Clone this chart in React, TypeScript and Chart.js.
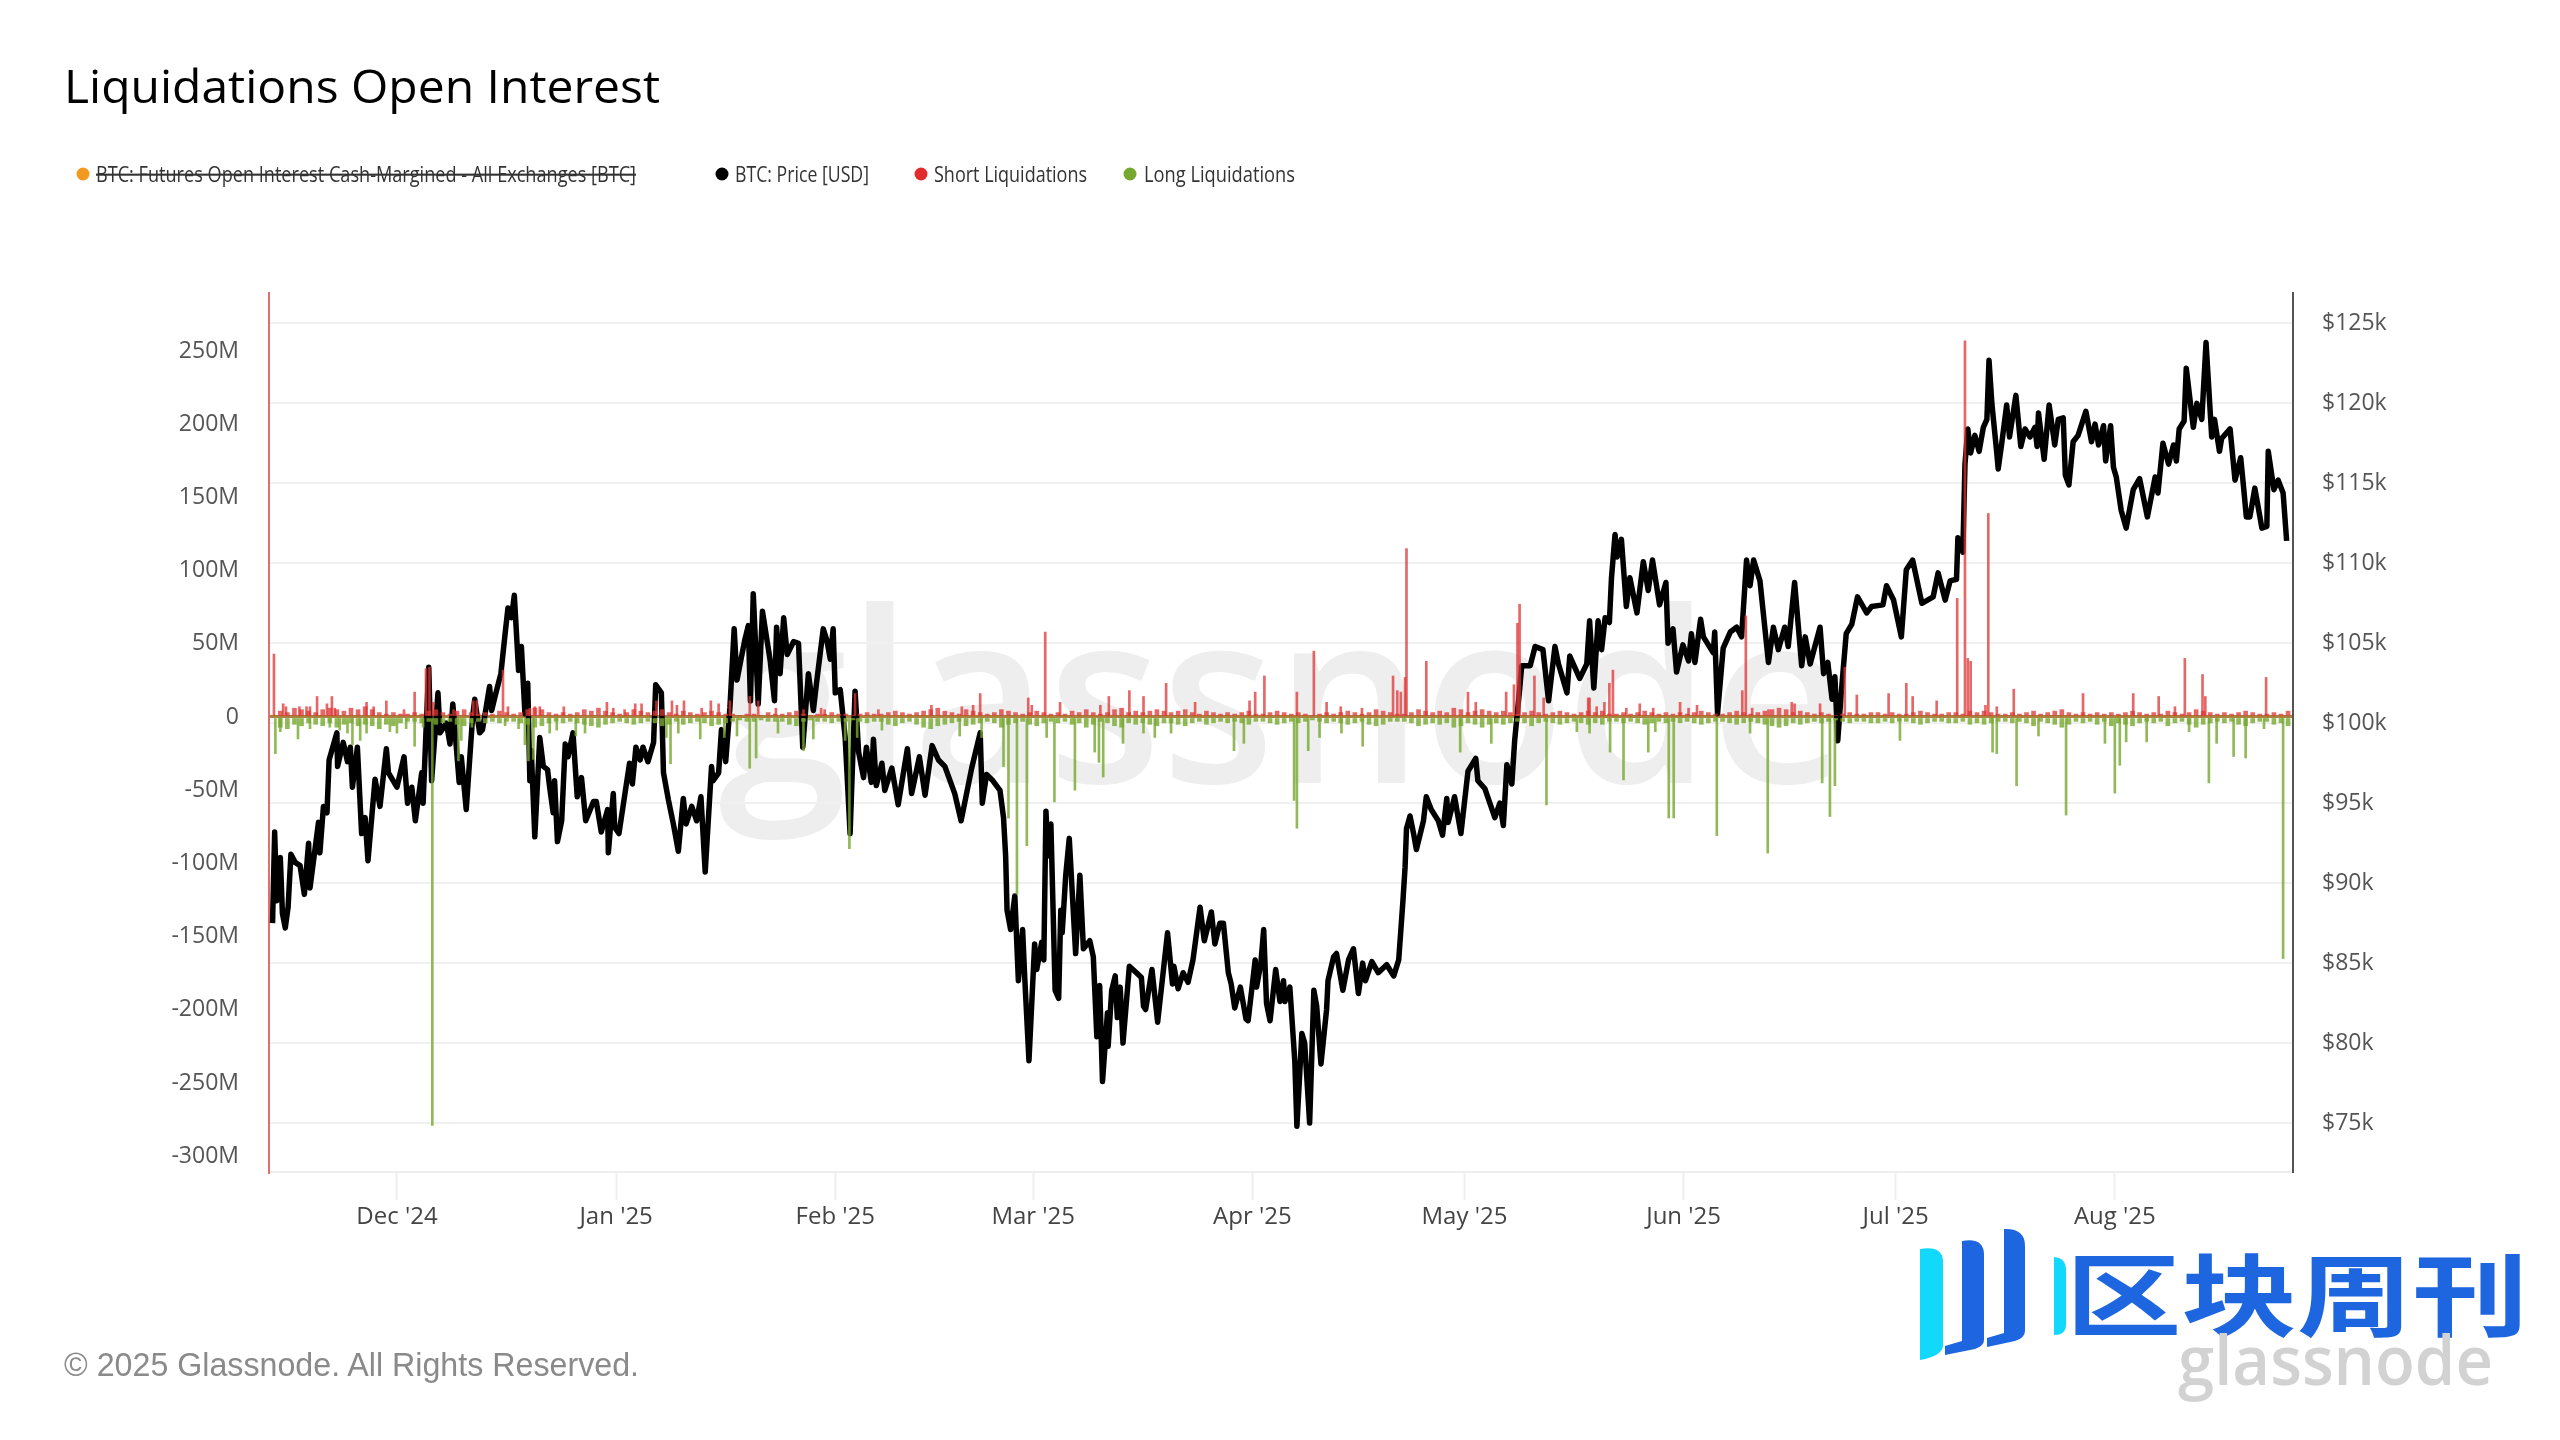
import { useEffect, useRef } from "react"
import { Chart, registerables } from "chart.js"

Chart.register(...registerables)

const TITLE = "Liquidations Open Interest"
const COPYRIGHT = "© 2025 Glassnode. All Rights Reserved."

// x values are days counted from 1 Dec 2024
const monthDays = [0, 31, 62, 90, 121, 151, 182, 212, 243]
const monthLabels = ["Dec '24", "Jan '25", "Feb '25", "Mar '25", "Apr '25", "May '25", "Jun '25", "Jul '25", "Aug '25"]
const liqTicks = [250, 200, 150, 100, 50, 0, -50, -100, -150, -200, -250, -300]
const priceTicks = [125, 120, 115, 110, 105, 100, 95, 90, 85, 80, 75]

// BTC price, $k
const priceDays = [
  -17.6, -17.3, -17.0, -16.5, -16.2, -15.8, -15.4, -15.0, -14.4, -13.7, -13.1, -12.5, -12.3, -11.1, -10.9, -10.4, -9.9, -9.6, -8.5, -8.4,
  -7.6, -7.0, -6.6, -6.3, -5.6, -5.0, -4.5, -4.1, -3.1, -2.4, -1.5, -1.2, 0.0, 1.0, 1.5, 2.1, 2.6, 3.5, 3.7, 4.1,
  4.5, 4.9, 5.8, 6.1, 7.0, 7.5, 7.9, 8.4, 8.8, 9.1, 9.8, 10.7, 11.0, 11.7, 12.1, 13.1, 13.4, 14.0, 14.7, 15.3,
  15.7, 16.2, 16.6, 17.2, 17.6, 18.1, 18.5, 18.8, 19.0, 19.5, 20.2, 20.7, 21.3, 21.6, 22.1, 22.3, 22.7, 23.3, 23.8, 24.2,
  24.9, 25.5, 26.1, 26.7, 27.8, 28.2, 28.9, 29.8, 29.9, 30.6, 30.8, 31.4, 32.9, 33.3, 33.8, 34.4, 34.8, 35.5, 36.3, 36.6,
  37.4, 37.7, 38.4, 39.1, 39.8, 40.5, 40.9, 41.7, 42.4, 43.0, 43.6, 44.5, 44.7, 45.5, 45.9, 46.5, 47.1, 47.7, 48.1, 49.2,
  49.7, 50.0, 50.4, 51.1, 51.7, 52.8, 53.4, 53.7, 54.2, 54.7, 55.2, 56.1, 56.8, 57.4, 58.2, 58.9, 59.4, 60.3, 60.8, 61.3,
  61.7, 62.0, 62.7, 63.4, 64.1, 64.8, 65.3, 66.0, 66.4, 67.1, 67.4, 67.8, 68.6, 69.0, 70.0, 70.9, 72.2, 72.8, 73.9, 74.7,
  75.7, 76.6, 77.5, 78.9, 79.8, 81.3, 82.5, 82.8, 83.4, 84.3, 85.3, 85.8, 86.1, 86.3, 86.8, 87.4, 87.9, 88.5, 88.8, 89.4,
  90.2, 90.5, 91.2, 91.5, 91.8, 92.1, 92.5, 93.1, 93.6, 93.9, 94.1, 94.6, 95.1, 96.0, 96.6, 97.1, 98.0, 98.5, 99.0, 99.4,
  99.8, 100.5, 100.6, 101.1, 101.6, 101.9, 102.3, 102.7, 103.6, 104.6, 105.3, 105.6, 105.9, 106.8, 107.6, 109.0, 109.7, 109.9, 110.5, 111.2,
  111.9, 112.6, 113.6, 114.2, 115.2, 115.7, 116.4, 116.9, 117.6, 118.0, 118.5, 119.3, 120.1, 120.4, 121.4, 121.6, 122.2, 122.6, 123.0, 123.5,
  124.3, 124.9, 125.4, 125.6, 126.3, 127.0, 127.3, 128.0, 128.4, 129.1, 129.7, 130.1, 130.7, 131.5, 131.7, 132.5, 132.9, 133.8, 134.6, 135.3,
  136.0, 136.6, 137.0, 137.9, 138.8, 140.0, 141.0, 141.7, 142.3, 142.6, 142.8, 143.3, 143.8, 144.2, 145.2, 145.6, 146.3, 147.3, 147.9, 148.5,
  148.7, 149.6, 150.5, 151.5, 152.6, 152.9, 153.9, 155.3, 156.0, 156.5, 157.0, 157.7, 158.1, 158.8, 159.1, 160.3, 161.0, 162.1, 162.9, 163.8,
  164.3, 165.5, 165.9, 167.3, 168.3, 168.7, 169.3, 169.9, 170.4, 170.9, 171.5, 171.8, 172.3, 172.6, 173.2, 173.9, 174.4, 175.4, 176.3, 177.0,
  177.6, 178.6, 179.5, 179.8, 180.5, 181.0, 181.9, 182.7, 183.1, 183.6, 184.4, 184.8, 186.2, 186.4, 186.8, 187.6, 188.6, 189.5, 190.2, 190.9,
  191.4, 191.9, 192.8, 194.0, 194.7, 195.4, 196.3, 196.8, 197.7, 198.7, 199.2, 199.9, 201.3, 201.8, 202.4, 203.0, 203.4, 203.8, 204.3, 205.0,
  205.8, 206.6, 207.9, 208.6, 210.2, 210.7, 211.7, 212.8, 213.5, 214.4, 215.7, 217.3, 218.0, 219.0, 219.7, 220.6, 220.8, 221.5, 221.8, 222.2,
  222.6, 223.2, 223.8, 224.4, 224.9, 225.2, 225.6, 226.3, 226.5, 227.0, 227.7, 228.1, 229.0, 229.7, 230.3, 231.0, 231.7, 232.0, 232.2, 233.0,
  233.7, 234.5, 235.0, 235.7, 236.0, 236.5, 237.1, 237.8, 238.9, 239.7, 240.2, 240.7, 241.4, 241.7, 242.4, 242.8, 243.2, 243.9, 244.6, 245.6,
  246.5, 247.6, 248.7, 249.1, 249.8, 250.6, 251.3, 251.7, 252.1, 252.8, 253.1, 254.1, 254.6, 255.3, 255.9, 256.7, 257.1, 257.8, 258.1, 259.3,
  260.0, 260.8, 261.2, 261.6, 262.1, 262.8, 263.8, 264.5, 264.7, 265.5, 266.1, 266.8, 267.3,
]
const priceK = [
  87.5, 93.2, 88.9, 91.6, 88.1, 87.2, 88.5, 91.8, 91.3, 91.1, 89.3, 92.5, 89.7, 93.8, 91.9, 94.8, 94.4, 97.7, 99.4, 97.3,
  98.8, 97.6, 98.5, 96.0, 98.5, 93.1, 94.1, 91.4, 96.5, 94.8, 98.4, 96.9, 96.0, 97.9, 95.0, 96.0, 93.9, 96.9, 95.0, 99.4,
  103.5, 96.4, 101.9, 99.4, 100.0, 98.7, 101.2, 98.5, 96.3, 97.9, 94.6, 100.4, 101.5, 99.4, 99.6, 102.3, 100.8, 101.9, 103.1, 105.6,
  107.2, 106.6, 108.0, 103.3, 104.8, 100.6, 102.5, 96.4, 98.3, 92.9, 99.1, 97.3, 97.1, 96.0, 94.4, 96.4, 92.6, 93.9, 98.7, 97.9,
  99.4, 95.4, 96.6, 93.9, 95.1, 95.1, 93.2, 94.6, 91.9, 95.6, 93.5, 93.1, 97.5, 96.2, 98.5, 97.7, 98.5, 97.6, 98.8, 102.4,
  101.9, 96.9, 95.2, 93.7, 92.0, 95.3, 93.7, 94.8, 93.9, 95.4, 90.7, 97.3, 96.4, 96.9, 99.6, 97.6, 101.0, 105.9, 102.7, 105.2,
  106.1, 101.4, 108.1, 101.2, 107.0, 103.9, 101.4, 106.0, 103.1, 106.6, 104.3, 105.1, 105.0, 98.5, 103.1, 100.8, 102.7, 105.9, 105.2, 104.0,
  105.9, 101.9, 102.1, 99.1, 93.1, 102.0, 98.2, 96.6, 98.5, 96.3, 99.0, 96.1, 97.5, 95.8, 97.2, 94.9, 98.4, 95.6, 97.9, 95.5,
  98.6, 97.7, 97.3, 95.6, 93.9, 97.2, 99.4, 95.0, 96.8, 96.4, 95.8, 94.1, 91.7, 88.3, 87.1, 89.2, 83.9, 87.1, 84.1, 78.9,
  86.2, 84.6, 86.3, 85.2, 94.5, 91.7, 93.7, 83.3, 82.8, 88.3, 86.9, 90.5, 92.8, 85.6, 90.5, 85.9, 86.4, 85.4, 80.4, 83.6,
  77.6, 81.9, 79.8, 83.3, 84.2, 81.6, 83.5, 80.0, 84.8, 84.4, 84.1, 82.3, 82.1, 84.6, 81.3, 86.9, 83.7, 84.8, 83.4, 84.4,
  83.8, 85.2, 88.5, 86.4, 88.2, 86.2, 87.5, 87.5, 84.4, 83.7, 82.2, 83.5, 81.5, 81.4, 85.2, 83.5, 85.0, 87.1, 82.5, 81.4,
  84.6, 82.6, 83.9, 82.6, 83.5, 78.9, 74.8, 80.6, 80.0, 75.0, 83.3, 82.3, 78.7, 82.1, 83.9, 85.4, 85.6, 83.3, 85.2, 85.9,
  83.1, 85.0, 83.9, 85.1, 84.4, 84.9, 84.2, 85.2, 88.9, 91.0, 93.4, 94.2, 93.1, 92.1, 93.9, 95.4, 94.6, 93.9, 93.0, 95.3,
  93.8, 95.4, 93.1, 97.0, 97.8, 96.4, 95.9, 94.1, 95.0, 93.6, 97.4, 96.2, 98.9, 102.1, 103.6, 103.6, 104.8, 104.6, 101.4, 104.8,
  103.7, 101.9, 104.2, 102.8, 103.7, 106.4, 102.2, 106.4, 104.6, 106.6, 106.3, 109.1, 111.8, 110.4, 111.5, 107.3, 109.1, 106.9, 110.1, 108.3,
  110.2, 107.4, 108.8, 105.0, 105.9, 103.2, 104.9, 103.9, 105.6, 103.8, 106.5, 105.4, 104.4, 105.7, 100.6, 104.7, 105.7, 106.0, 105.4, 110.2,
  108.6, 110.2, 108.9, 103.8, 106.0, 104.6, 106.0, 104.8, 108.8, 103.6, 105.4, 103.7, 106.0, 103.1, 103.8, 101.5, 102.9, 98.9, 101.9, 105.6,
  106.2, 107.9, 106.9, 107.3, 107.4, 108.6, 107.7, 105.4, 109.6, 110.2, 107.5, 107.9, 109.4, 107.7, 108.9, 109.0, 111.6, 110.7, 116.2, 118.4,
  116.9, 118.0, 117.0, 118.5, 119.0, 122.7, 120.0, 116.9, 115.9, 117.5, 119.9, 117.9, 120.5, 117.3, 118.4, 117.9, 118.5, 117.3, 119.4, 116.5,
  119.9, 117.4, 119.0, 119.1, 115.5, 114.9, 117.6, 118.0, 119.5, 117.6, 118.7, 117.4, 118.6, 116.4, 118.6, 116.0, 115.4, 113.3, 112.2, 114.6,
  115.3, 112.9, 115.4, 114.4, 117.5, 116.2, 117.4, 116.4, 118.4, 118.9, 122.2, 118.5, 120.0, 119.0, 123.8, 117.9, 119.0, 117.0, 117.8, 118.4,
  115.2, 116.6, 114.8, 112.9, 112.9, 114.7, 112.2, 112.3, 117.0, 114.6, 115.2, 114.4, 111.4,
]

// the bigger short liquidation spikes, $M
const shortDays = [
  -17.4, -16.1, -15.7, -13.8, -12.8, -12.3, -11.3, -9.9, -9.2, -8.8, -4.3, -3.3, -1.5, 1.0, 2.5, 4.1, 4.6, 5.1, 8.0, 10.8,
  11.3, 15.0, 15.7, 18.8, 19.5, 20.2, 23.6, 29.7, 30.6, 32.2, 33.7, 34.6, 36.7, 38.9, 39.6, 40.6, 43.1, 44.4, 45.5, 47.1,
  49.9, 51.1, 53.6, 57.5, 60.0, 60.5, 64.8, 68.1, 75.6, 79.9, 81.5, 82.5, 89.3, 89.8, 91.7, 93.8, 99.5, 100.7, 103.6, 105.6,
  108.8, 112.9, 120.6, 121.4, 122.7, 127.3, 129.7, 131.5, 133.5, 136.5, 140.9, 141.5, 142.0, 142.6, 142.8, 145.6, 151.5, 152.6, 156.9, 158.0,
  158.5, 158.8, 160.9, 162.2, 168.5, 168.7, 169.7, 170.8, 171.5, 172.0, 173.9, 175.8, 177.7, 181.5, 182.7, 183.9, 190.3, 190.8, 191.7, 194.0,
  197.3, 197.7, 201.3, 204.8, 206.5, 211.0, 213.5, 214.4, 217.8, 220.7, 221.8, 222.2, 222.6, 225.1, 224.7, 226.3, 228.7, 238.5, 245.6, 249.2,
  251.5, 252.9, 255.4, 255.8, 264.4,
]
const shortM = [
  43, 9, 7, 7, 7, 7, 14, 9, 14, 6, 10, 7, 11, 5, 17, 33, 34, 10, 5, 11,
  11, 32, 7, 6, 7, 7, 7, 10, 6, 5, 9, 9, 11, 11, 8, 11, 6, 11, 9, 11,
  14, 11, 6, 5, 6, 5, 16, 5, 8, 7, 8, 16, 13, 8, 58, 10, 8, 14, 18, 14,
  23, 10, 11, 17, 28, 17, 45, 10, 7, 6, 28, 18, 17, 27, 115, 38, 17, 10, 17, 22,
  64, 77, 28, 13, 13, 13, 7, 10, 23, 32, 6, 9, 6, 10, 6, 8, 18, 69, 6, 5,
  10, 9, 9, 34, 15, 16, 23, 14, 11, 81, 257, 40, 38, 139, 8, 7, 19, 16, 16, 14,
  7, 40, 29, 14, 27,
]

// the bigger long liquidation spikes, $M (plotted downwards)
const longDays = [
  -17.2, -16.5, -14.0, -12.3, -9.5, -8.1, -7.0, -6.3, -5.2, -4.3, -1.0, 0.0, 1.3, 2.5, 3.7, 5.0, 8.7, 9.1, 10.6, 15.3,
  17.2, 18.1, 18.6, 19.3, 21.6, 22.6, 25.3, 26.6, 38.1, 38.7, 39.8, 42.9, 46.3, 48.1, 49.9, 50.8, 53.9, 57.5, 58.9, 63.4,
  64.0, 65.1, 68.6, 79.6, 82.7, 85.8, 86.5, 87.7, 89.1, 91.9, 93.0, 95.9, 98.7, 99.3, 99.9, 102.7, 105.6, 107.2, 109.5, 118.4,
  119.8, 126.9, 127.3, 128.9, 130.5, 133.6, 136.6, 150.4, 154.8, 162.6, 166.9, 168.7, 171.6, 173.5, 177.0, 178.0, 179.9, 180.6, 186.7, 191.4,
  193.9, 201.6, 202.7, 203.4, 212.6, 225.7, 226.3, 229.1, 232.2, 236.1, 241.6, 243.0, 243.7, 244.6, 247.5, 253.5, 256.3, 257.4, 259.8, 261.5,
  264.1, 266.8,
]
const longM = [
  25, 10, 15, 8, 7, 9, 11, 19, 16, 11, 10, 11, 8, 20, 7, 279, 30, 16, 7, 6,
  8, 19, 30, 29, 11, 9, 13, 11, 14, 32, 11, 15, 14, 13, 35, 28, 11, 23, 15, 16,
  90, 14, 9, 13, 14, 34, 69, 121, 88, 14, 58, 50, 24, 31, 41, 18, 11, 14, 11, 23,
  18, 57, 76, 23, 14, 11, 20, 24, 18, 60, 10, 11, 24, 43, 24, 10, 69, 69, 81, 11,
  93, 45, 68, 47, 16, 24, 25, 47, 13, 67, 18, 52, 33, 17, 17, 10, 45, 18, 27, 28,
  8, 165,
]

// small day-by-day liquidations along the zero line, from -17 onwards, $M
const shortSmallM = [
  4, 3, 6, 5, 4, 3, 5, 6, 5, 4, 6, 5, 7, 5, 3, 2, 3, 2, 2, 3, 2, 4, 5, 3, 2, 4, 5, 3, 2, 3,
  2, 4, 3, 2, 3, 5, 6, 5, 3, 2, 3, 2, 3, 5, 4, 6, 4, 3, 2, 3, 5, 4, 3, 4, 5, 3, 2, 4, 3, 2,
  3, 4, 3, 2, 2, 1, 2, 2, 1, 3, 2, 2, 3, 4, 2, 1, 2, 2, 3, 2, 2, 1, 2, 3, 2, 2, 3, 4, 3, 2,
  3, 4, 5, 6, 4, 3, 2, 5, 4, 3, 2, 3, 5, 4, 3, 2, 3, 4, 3, 2, 3, 2, 4, 3, 5, 3, 2, 3, 5, 6,
  3, 4, 3, 4, 5, 4, 3, 4, 5, 3, 2, 4, 3, 2, 3, 2, 3, 4, 2, 2, 3, 4, 3, 2, 3, 2, 1, 2, 3, 2,
  3, 4, 3, 2, 3, 5, 4, 3, 2, 2, 3, 5, 4, 3, 4, 3, 6, 5, 3, 4, 5, 4, 3, 4, 3, 2, 3, 4, 3, 2,
  3, 4, 3, 2, 3, 4, 3, 4, 2, 2, 3, 2, 3, 4, 3, 2, 3, 2, 3, 2, 3, 4, 3, 2, 2, 3, 4, 3, 2, 3,
  4, 5, 6, 5, 3, 4, 3, 2, 3, 2, 1, 2, 3, 2, 2, 3, 3, 2, 3, 2, 2, 3, 4, 3, 2, 2, 3, 3, 2, 4,
  3, 4, 3, 2, 2, 3, 2, 3, 4, 2, 3, 4, 5, 3, 2, 3, 2, 3, 2, 3, 2, 3, 4, 3, 2, 3, 2, 4, 3, 2,
  3, 5, 4, 3, 2, 3, 2, 3, 4, 3, 2, 2, 3, 2, 4, 3, 2, 3,
]
const longSmallM = [
  7, 8, 5, 6, 4, 5, 6, 4, 7, 5, 4, 6, 5, 6, 8, 5, 6, 4, 3, 3, 4, 3, 5, 4, 3, 5, 6, 4, 3, 4,
  3, 4, 3, 3, 4, 5, 7, 6, 4, 3, 4, 3, 4, 5, 6, 7, 5, 4, 3, 4, 5, 4, 3, 4, 6, 5, 3, 5, 4, 3,
  4, 6, 5, 4, 3, 2, 3, 3, 2, 3, 3, 3, 5, 6, 3, 2, 3, 3, 4, 3, 3, 2, 3, 4, 3, 3, 5, 6, 4, 3,
  5, 7, 8, 6, 5, 4, 3, 6, 5, 4, 3, 4, 7, 5, 4, 3, 5, 6, 4, 3, 4, 3, 5, 4, 7, 5, 3, 4, 6, 7,
  4, 5, 4, 5, 6, 4, 4, 5, 6, 4, 3, 5, 4, 3, 4, 3, 4, 5, 3, 3, 4, 5, 4, 3, 4, 3, 2, 3, 4, 3,
  4, 5, 4, 3, 5, 6, 5, 3, 3, 3, 4, 6, 5, 4, 5, 4, 7, 6, 4, 5, 7, 5, 4, 5, 4, 3, 4, 6, 4, 3,
  4, 5, 4, 3, 4, 5, 4, 5, 3, 3, 4, 3, 4, 5, 4, 3, 4, 3, 4, 3, 4, 5, 4, 3, 3, 4, 5, 4, 3, 4,
  5, 6, 7, 6, 4, 5, 4, 3, 4, 3, 2, 3, 4, 3, 3, 4, 4, 3, 4, 3, 3, 4, 5, 4, 3, 3, 4, 4, 3, 5,
  4, 5, 4, 3, 3, 4, 3, 4, 6, 3, 4, 5, 7, 5, 3, 4, 3, 5, 3, 6, 4, 5, 6, 4, 3, 4, 3, 6, 4, 3,
  5, 7, 5, 4, 3, 4, 3, 5, 6, 4, 3, 3, 5, 4, 6, 5, 7, 4,
]
const smallFirstDay = -17

const legendItems = [
  { label: "BTC: Futures Open Interest Cash-Margined - All Exchanges [BTC]", color: "#f29a1f", dot: 83, text: 96, width: 540, struck: true },
  { label: "BTC: Price [USD]", color: "#000000", dot: 722, text: 735, width: 134, struck: false },
  { label: "Short Liquidations", color: "#e22b2b", dot: 921, text: 934, width: 153, struck: false },
  { label: "Long Liquidations", color: "#75a82e", dot: 1130, text: 1144, width: 151, struck: false },
]

const FONT = '"Open Sans", sans-serif'
const SHORT_COLOR = "rgba(222, 52, 52, 0.75)"
const LONG_COLOR = "rgba(118, 168, 46, 0.8)"

export default function App() {
  const chartRef = useRef<HTMLCanvasElement>(null)

  useEffect(() => {
    if (!chartRef.current) return

    const chart = new Chart(chartRef.current, {
      type: "bar",
      data: {
        datasets: [
          {
            type: "line",
            label: "BTC: Price [USD]",
            data: priceDays.map((d, i) => ({ x: d, y: priceK[i] })),
            yAxisID: "yPrice",
            borderColor: "#000000",
            borderWidth: 5.5,
            borderJoinStyle: "round",
            pointRadius: 0,
            tension: 0,
            order: 5,
          },
          {
            label: "Short Liquidations",
            data: shortDays.map((d, i) => ({ x: d, y: shortM[i] })),
            yAxisID: "yLiq",
            backgroundColor: SHORT_COLOR,
            barThickness: 2,
            grouped: false,
            order: 4,
          },
          {
            label: "Short Liquidations, small",
            data: shortSmallM.map((v, i) => ({ x: smallFirstDay + i + 0.5, y: v })),
            yAxisID: "yLiq",
            backgroundColor: SHORT_COLOR,
            barThickness: 4,
            grouped: false,
            order: 3,
          },
          {
            label: "Long Liquidations",
            data: longDays.map((d, i) => ({ x: d, y: -longM[i] })),
            yAxisID: "yLiq",
            backgroundColor: LONG_COLOR,
            barThickness: 2,
            grouped: false,
            order: 2,
          },
          {
            label: "Long Liquidations, small",
            data: longSmallM.map((v, i) => ({ x: smallFirstDay + i + 0.5, y: -v })),
            yAxisID: "yLiq",
            backgroundColor: LONG_COLOR,
            barThickness: 4,
            grouped: false,
            order: 1,
          },
        ],
      },
      options: {
        responsive: false,
        devicePixelRatio: 1,
        animation: false,
        events: [],
        layout: { padding: { top: 293, left: 0, right: 0, bottom: 0 } },
        plugins: { legend: { display: false }, tooltip: { enabled: false } },
        scales: {
          x: {
            type: "linear",
            offset: false,
            min: -18.1,
            max: 268.2,
            afterBuildTicks: (scale) => {
              scale.ticks = monthDays.map((value) => ({ value }))
            },
            afterFit: (scale) => {
              scale.height = 268
            },
            border: { color: "#eeeeee", width: 2 },
            grid: { drawOnChartArea: false, drawTicks: true, tickLength: 28, tickColor: "#eeeeee", tickWidth: 2, offset: false },
            ticks: {
              autoSkip: false,
              maxRotation: 0,
              padding: 3,
              color: "#444444",
              font: { family: FONT, size: 24 },
              callback: (_v, i) => monthLabels[i],
            },
          },
          yLiq: {
            position: "left",
            min: -310.8,
            max: 289.6,
            afterBuildTicks: (scale) => {
              scale.ticks = liqTicks.map((value) => ({ value }))
            },
            afterFit: (scale) => {
              scale.width = 269
            },
            border: { color: "#e07070", width: 2 },
            grid: {
              drawTicks: false,
              lineWidth: 3,
              color: (ctx) => (ctx.tick && ctx.tick.value === 0 ? "#a8853c" : "rgba(0,0,0,0)"),
            },
            ticks: {
              padding: 30,
              color: "#555555",
              font: { family: FONT, size: 23 },
              callback: (v) => (v === 0 ? "0" : `${v}M`),
            },
          },
          yPrice: {
            position: "right",
            min: 71.94,
            max: 126.9,
            afterBuildTicks: (scale) => {
              scale.ticks = priceTicks.map((value) => ({ value }))
            },
            afterFit: (scale) => {
              scale.width = 267
            },
            border: { color: "#555555", width: 2 },
            grid: { drawTicks: false, color: "#f0f0f0", lineWidth: 2 },
            ticks: {
              padding: 29,
              color: "#555555",
              font: { family: FONT, size: 23 },
              callback: (v) => `$${v}k`,
            },
          },
        },
      },
    })

    return () => {
      chart.destroy()
    }
  }, [])

  return (
    <div style={{ position: "absolute", left: 0, top: 0, width: 2560, height: 1440, background: "#ffffff", overflow: "hidden" }}>
      <svg width={2560} height={1440} style={{ position: "absolute", left: 0, top: 0 }}>
        <text x={718} y={783} fontFamily={FONT} fontWeight={600} fontSize={240} fill="#eeeeee" textLength={1127} lengthAdjust="spacingAndGlyphs">
          glassnode
        </text>
      </svg>
      <canvas ref={chartRef} width={2560} height={1440} style={{ position: "absolute", left: 0, top: 0 }} />
      <svg width={2560} height={1440} style={{ position: "absolute", left: 0, top: 0 }}>
        <text x={64} y={103} fontFamily={FONT} fontSize={46} fill="#000000" textLength={596} lengthAdjust="spacingAndGlyphs">
          {TITLE}
        </text>
        {legendItems.map((item) => (
          <g key={item.label}>
            <circle cx={item.dot} cy={174} r={6.5} fill={item.color} />
            <text
              x={item.text}
              y={182}
              fontFamily={FONT}
              fontSize={21}
              fill="#333333"
              textLength={item.width}
              lengthAdjust="spacingAndGlyphs"
              textDecoration={item.struck ? "line-through" : undefined}
            >
              {item.label}
            </text>
          </g>
        ))}
        <text x={64} y={1376} fontFamily='"Liberation Sans", sans-serif' fontSize={33} fill="#8a8a8a" textLength={575} lengthAdjust="spacingAndGlyphs">
          {COPYRIGHT}
        </text>
        <path d="M1920 1249 Q1943 1245 1943 1262 L1943 1345 Q1943 1356 1920 1360 Z" fill="#12d8fb" />
        <path d="M1945 1355 L1945 1346 L1962 1341 L1962 1241 Q1984 1237 1984 1255 L1984 1340 Q1984 1346 1975 1349 Z" fill="#1e66e0" />
        <path d="M1987 1347 L1987 1338 L2004 1333 L2004 1229 Q2025 1228 2025 1246 L2025 1331 Q2025 1338 2015 1341 Z" fill="#1e66e0" />
        <path d="M2054 1257 Q2066 1258 2066 1270 L2066 1325 Q2066 1335 2054 1335 Z" fill="#12d8fb" />
        <text x={2066} y={1329} fontFamily='"Noto Sans CJK SC", sans-serif' fontWeight={700} fontSize={90} fill="#1e66e0" textLength={462} lengthAdjust="spacingAndGlyphs">
          区块周刊
        </text>
        <text x={2178} y={1385} fontFamily={FONT} fontWeight={600} fontSize={68} fill="#d2d2d2" textLength={315} lengthAdjust="spacingAndGlyphs">
          glassnode
        </text>
      </svg>
    </div>
  )
}
